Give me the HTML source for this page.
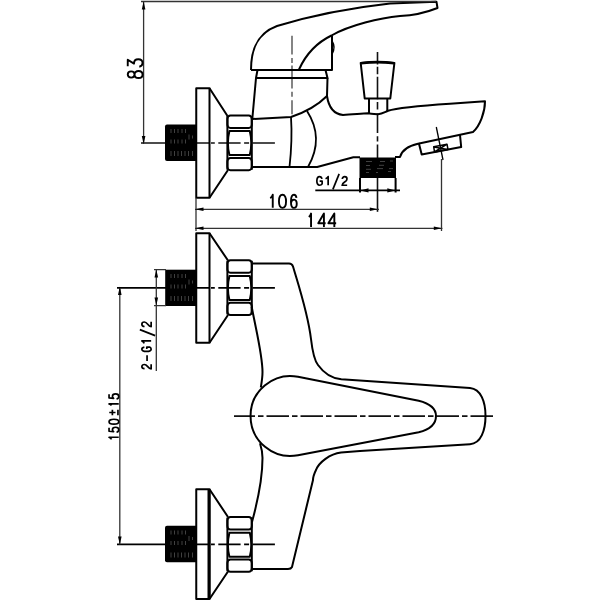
<!DOCTYPE html>
<html><head><meta charset="utf-8">
<style>
html,body{margin:0;padding:0;background:#fff;width:600px;height:600px;overflow:hidden}
svg{display:block}
</style></head><body>
<svg width="600" height="600" viewBox="0 0 600 600">
<defs>
<g id="nut" fill="none" stroke="#000" stroke-width="2">
<path d="M0,0.5 V54.3 M24.4,0.5 V54.3"/>
<rect x="0" y="0" width="24.4" height="12.5" rx="3" ry="3.5"/>
<path d="M2,15.7 H22.4 Q25.4,27.7 22.4,39.7 H2 Q-1,27.7 2,15.7 Z"/>
<rect x="0" y="42.6" width="24.4" height="12.2" rx="3" ry="3.5"/>
</g>
<g id="thr" fill="none" stroke="#505050" stroke-width="0.8">
<path d="M171,4.5 V8.5 M174.5,4.5 V8.5 M178,4.5 V8.5 M182,4.5 V8.5 M185.5,4.5 V8.5 M171,15 V19 M174.5,15 V19 M178,15 V19 M182,15 V19 M185.5,15 V19 M189,10 V15 M192.5,11 V14 M171,26.5 V31.5 M174.5,26.5 V31.5 M178,26.5 V31.5 M181.5,26.5 V31.5 M185,26.5 V31.5 M188.5,26.5 V31.5 M192.5,26.5 V31.5"/>
</g>
</defs>

<!-- ============ centerlines (under) ============ -->
<g fill="none" stroke="#111" stroke-width="1.7">
<path d="M141,143 H209.5"/>
<path d="M211,143 H276" stroke-dasharray="22.3 3.5 5 3.5" stroke-dashoffset="27"/>
<path d="M117,287.9 H209.5" stroke="#000" stroke-width="1.9"/>
<path d="M211,287.9 H276" stroke="#000" stroke-width="1.9" stroke-dasharray="22.3 3.5 5 3.5" stroke-dashoffset="27"/>
<path d="M117,544.4 H209.5" stroke="#000" stroke-width="1.9"/>
<path d="M211,544.4 H276" stroke="#000" stroke-width="1.9" stroke-dasharray="22.3 3.5 5 3.5" stroke-dashoffset="27"/>
<path d="M234,416.1 H493" stroke-width="1.9" stroke-dasharray="22.5 3 5.5 3" stroke-dashoffset="1.5"/>
<path d="M377.5,52 V64.6 M377.5,66.7 V74.2 M377.5,76.7 V99.2 M377.5,102 V109.4 M377.5,113.5 V133 M377.5,136.2 V141.4 M377.5,144.5 V158" stroke-width="1.6"/>
<path d="M292,35.8 V54.6 M292,57.9 V62.9 M292,65.4 V88.5 M292,91.8 V96.8 M292,100.2 V114.3" stroke="#707070" stroke-width="1.7"/>
<path d="M377.5,178 V211.8" stroke="#111" stroke-width="1.6"/>
</g>

<g fill="none" stroke="#000" stroke-width="2" stroke-linejoin="round" stroke-linecap="butt">

<!-- ============ SIDE VIEW ============ -->
<!-- handle -->
<path d="M251,70 C251,48 258,33 277,26 C300,19 340,9 390,3.5 L436.5,1.8 L437.5,8 C425,13 412,15.5 400,16 C380,18 350,25 331.5,35.5 C318,42 306,54 299,69.5"/>
<path d="M251,70 L332,70 L332,35.5"/>
<path d="M332,41 Q336,47.5 332,54" stroke-width="1.5"/>
<!-- collar -->
<path d="M257.5,70 L256,78 L327.5,78 L325.5,70"/>
<!-- body -->
<path d="M256,78 L252.3,119 L291,117 C303,113 318,105 327,96 L327.5,78"/>
<path d="M327,96 C328.5,106 333,114 343,115 C352,114.6 362,113.5 368,113.3 C372,113.8 376,114.3 378,114.2 C382,114 385,112 388,110.8 C396,108.3 425,105.5 450,103.8 L485,101.3 C485,112 480,126 473,132 L418,143.8 C408,146 402,150 400,157 L395,157"/>
<path d="M252.3,167 L317.2,167 L353.3,157.3 L360,157.3"/>
<path d="M291,117 Q292.5,140 289.5,167" stroke-width="1.8"/>
<path d="M307,111 Q324.5,138 308,167" stroke-width="1.8"/>
<!-- knob -->
<path d="M360.7,63 Q377.5,60.8 394.4,63 L390.3,98.5 L364.7,98.5 Z"/>
<path d="M361,63.2 Q377.5,61 394,63.2" stroke-width="2.6"/>
<path d="M369,98.5 L369,113.3 M387.3,98.5 L387.3,111.2"/>
<!-- aerator -->
<path d="M418.8,143 L421.7,154.6 L461.2,147 L460,135"/>
<path d="M433.7,146.7 L447,144.2 L448,149.5 L434.5,152 Z M434,147 L447.5,149.5 M434.5,152 L447,144.2" stroke-width="1.5"/>
<line x1="436.3" y1="127" x2="443" y2="160" stroke-width="1.3"/>

<!-- flange + nut side -->
<path d="M209.5,88.25 L196.25,88.25 L196.25,197.8 L209.5,197.8 Z"/>
<path d="M209.5,88.25 L227.5,116 M209.5,197.8 L228,170"/>
<use href="#nut" transform="translate(227.4,115.4)"/>

<!-- threads -->
<path d="M167,124.5 H196 V161 H167 Q165,161 165,159 V126.5 Q165,124.5 167,124.5 Z" fill="#000" stroke="none"/>
<use href="#thr" transform="translate(0,124.5)"/>
<rect x="359.5" y="157.5" width="36.5" height="20.5" fill="#000" stroke="none"/>
<path d="M366,161.5 H372 M380,161.5 H385 M390,161 H393 M366,165.5 H370 M379,165.3 H384 M366,169.3 H371 M377,168.6 H383 M389,168.6 H393 M366,172.5 H369 M376,172.5 H378 M388,171.5 H391" stroke="#505050" stroke-width="0.8"/>

<!-- ============ FRONT VIEW ============ -->
<!-- upper connection -->
<path d="M209.5,233.3 L196.25,233.3 L196.25,342.7 L209.5,342.7 Z"/>
<path d="M209.5,233.3 L228,260.5 M209.5,342.7 L228,315"/>
<use href="#nut" transform="translate(227.4,260.2)"/>
<!-- lower connection -->
<path d="M209.5,489.3 L196.25,489.3 L196.25,599 L209.5,599 Z"/>
<path d="M209,490 V599" stroke-width="3"/>
<path d="M209.5,489.3 L228,517 M209.5,599 L228,571.5"/>
<use href="#nut" transform="translate(227.4,517)"/>

<!-- body -->
<path d="M252.3,263.6 L289,263.6 Q292,263.6 293,266.5 C300,290 308,314 311,339 C312.5,352 314,360 318,365 C323,372 331,378.3 341.3,379.3 L470,388 C481,389 485.5,402 485.5,416 C485.5,430 481,443.5 470,444.2 L360,451 L341,452.5 C330,454 319,462 316,470 C314,474 313,478 313,480 L292,567 Q291,569 288,569 L252.3,569"/>
<path d="M251.7,306.7 C256,330 262.5,355 262.5,372 C262.5,378 261.5,383 260.8,387.5"/>
<path d="M260,443.3 C261.5,448 262.5,452 262.5,458 C262.5,475 258,500 252,522"/>
<!-- handle teardrop -->
<path d="M298,376.7 A40,40 0 1 0 298,455.3 L418.7,432.3 C432,429 436,422 436,416 C436,410 432,404 418.7,400.7 Z"/>

<!-- threads front -->
<rect x="165.2" y="269.7" width="30.8" height="36.3" fill="#000" stroke="none"/>
<use href="#thr" transform="translate(0,269.5)"/>
<path d="M167,525.8 H196 V562.3 H167 Q165,562.3 165,560.3 V527.8 Q165,525.8 167,525.8 Z" fill="#000" stroke="none"/>
<use href="#thr" transform="translate(0,526)"/>
</g>

<!-- ============ dimensions ============ -->
<g fill="none" stroke="#333" stroke-width="1.3">
<path d="M141,1.5 H436"/>
<path d="M143.6,1.5 V144"/>
<path d="M360,178 V192.6 M395.6,178 V192.6" stroke="#000" stroke-width="2"/>
<path d="M315.3,190.4 H400" stroke="#000" stroke-width="1.6"/>
<path d="M196,198 V231 M195,209.3 H379 M195,228.3 H442.5 M441.5,159 V231"/>
<path d="M154,269.6 H166 M154,305.6 H166 M156.3,269.6 V371"/>
<path d="M119.8,288 V544.4"/>
</g>
<g fill="#000" stroke="none">
<path d="M143.6,1.5 L145.40,9.50 L141.80,9.50 Z"/>
<path d="M143.6,144 L141.80,136.00 L145.40,136.00 Z"/>
<path d="M360.5,190.4 L368.5,188.3 L368.5,192.5 Z"/>
<path d="M395.3,190.4 L387.3,192.5 L387.3,188.3 Z"/>
<path d="M195,209.3 L203.50,207.50 L203.50,211.10 Z"/>
<path d="M377.8,209.3 L369.80,211.10 L369.80,207.50 Z"/>
<path d="M195,228.3 L203.50,226.50 L203.50,230.10 Z"/>
<path d="M441.8,228.3 L433.80,230.10 L433.80,226.50 Z"/>
<path d="M156.3,269.6 L158.10,277.60 L154.50,277.60 Z"/>
<path d="M156.3,305.6 L154.50,297.60 L158.10,297.60 Z"/>
<path d="M119.8,286.5 L121.60,295.00 L118.00,295.00 Z"/>
<path d="M119.8,544.5 L118.00,536.50 L121.60,536.50 Z"/>
</g>

<!-- texts -->
<g fill="none" stroke="#000" stroke-linecap="butt" stroke-linejoin="round">
<path d="M0,2.6 C1.3,2.1 2.6,1.2 3.2,0 L3.2,10" transform="matrix(0.7812,0,0,1.3100,270.250,194.750)" stroke-width="1.9" vector-effect="non-scaling-stroke"/>
<path d="M3,0 C1,0 0,2.2 0,5 C0,7.8 1,10 3,10 C5,10 6,7.8 6,5 C6,2.2 5,0 3,0 Z" transform="matrix(1.1833,0,0,1.3100,278.950,194.750)" stroke-width="1.9" vector-effect="non-scaling-stroke"/>
<path d="M5.7,2.4 C5.4,0.8 4.4,0 3.1,0 C1,0 0,2.1 0,5.3 C0,8.3 1.2,10 3.1,10 C4.9,10 6,8.7 6,6.8 C6,4.9 4.9,3.7 3.2,3.7 C1.6,3.7 0.3,4.8 0.1,6.3" transform="matrix(0.9667,0,0,1.3100,290.950,194.750)" stroke-width="1.9" vector-effect="non-scaling-stroke"/>
<path d="M0,2.6 C1.3,2.1 2.6,1.2 3.2,0 L3.2,10" transform="matrix(0.6875,0,0,1.3400,308.850,213.550)" stroke-width="1.9" vector-effect="non-scaling-stroke"/>
<path d="M4.6,10 L4.6,0 L0,7.2 L6,7.2" transform="matrix(1.2333,0,0,1.3400,318.250,213.550)" stroke-width="1.9" vector-effect="non-scaling-stroke"/>
<path d="M4.6,10 L4.6,0 L0,7.2 L6,7.2" transform="matrix(1.3000,0,0,1.3400,328.350,213.550)" stroke-width="1.9" vector-effect="non-scaling-stroke"/>
<path d="M6.2,2.7 C5.8,1 4.7,0 3.3,0 C1.2,0 0,2.1 0,5 C0,8 1.2,10 3.3,10 C4.6,10 5.8,9.4 6.4,8.4 L6.4,5.3 L3.4,5.3" transform="matrix(0.8281,0,0,0.8700,316.850,176.550)" stroke-width="1.7" vector-effect="non-scaling-stroke"/>
<path d="M0,2.6 C1.3,2.1 2.6,1.2 3.2,0 L3.2,10" transform="matrix(0.8125,0,0,0.8700,325.550,176.550)" stroke-width="1.7" vector-effect="non-scaling-stroke"/>
<path d="M0,10 L4,0" transform="matrix(1.5750,0,0,1.5500,332.850,173.850)" stroke-width="1.7" vector-effect="non-scaling-stroke"/>
<path d="M0.2,2.9 C0.2,1.1 1.4,0 3,0 C4.7,0 5.8,1.1 5.8,2.7 C5.8,4.4 4.5,5.3 3,6.3 C1.5,7.3 0.2,8.4 0,10 L6,10" transform="matrix(0.8333,0,0,0.8700,342.150,176.550)" stroke-width="1.7" vector-effect="non-scaling-stroke"/>
<path d="M3,4.6 C1.4,4.6 0.4,3.7 0.4,2.3 C0.4,0.9 1.5,0 3,0 C4.5,0 5.6,0.9 5.6,2.3 C5.6,3.7 4.6,4.6 3,4.6 C1.2,4.6 0,5.6 0,7.3 C0,8.9 1.3,10 3,10 C4.7,10 6,8.9 6,7.3 C6,5.6 4.8,4.6 3,4.6 Z" transform="matrix(0,-1.1833,1.4800,0,127.750,78.050)" stroke-width="1.9" vector-effect="non-scaling-stroke"/>
<path d="M0.4,0 L5.6,0 L2.5,4.2 C4.8,4.2 6,5.5 6,7.1 C6,8.9 4.6,10 3,10 C1.4,10 0.3,9.1 0,7.8" transform="matrix(0,-1.2500,1.4800,0,127.750,66.750)" stroke-width="1.9" vector-effect="non-scaling-stroke"/>
<path d="M0,2.6 C1.3,2.1 2.6,1.2 3.2,0 L3.2,10" transform="matrix(0,-0.6875,0.9700,0,109.050,439.450)" stroke-width="1.7" vector-effect="non-scaling-stroke"/>
<path d="M5.5,0 L1.2,0 L0.6,4.7 C1.2,4 2.1,3.5 3.1,3.5 C4.9,3.5 6,4.9 6,6.75 C6,8.7 4.7,10 3,10 C1.4,10 0.3,9.1 0,7.7" transform="matrix(0,-0.8333,0.9700,0,109.050,432.250)" stroke-width="1.7" vector-effect="non-scaling-stroke"/>
<path d="M3,0 C1,0 0,2.2 0,5 C0,7.8 1,10 3,10 C5,10 6,7.8 6,5 C6,2.2 5,0 3,0 Z" transform="matrix(0,-0.8167,0.9700,0,109.050,424.150)" stroke-width="1.7" vector-effect="non-scaling-stroke"/>
<path d="M2.5,0 L2.5,7.2 M0,3.6 L5,3.6 M0,10 L5,10" transform="matrix(0,-1.0600,0.8700,0,109.250,415.150)" stroke-width="1.7" vector-effect="non-scaling-stroke"/>
<path d="M0,2.6 C1.3,2.1 2.6,1.2 3.2,0 L3.2,10" transform="matrix(0,-0.4687,0.9700,0,109.050,405.350)" stroke-width="1.7" vector-effect="non-scaling-stroke"/>
<path d="M5.5,0 L1.2,0 L0.6,4.7 C1.2,4 2.1,3.5 3.1,3.5 C4.9,3.5 6,4.9 6,6.75 C6,8.7 4.7,10 3,10 C1.4,10 0.3,9.1 0,7.7" transform="matrix(0,-0.8500,0.9700,0,109.050,398.950)" stroke-width="1.7" vector-effect="non-scaling-stroke"/>
<path d="M0.2,2.9 C0.2,1.1 1.4,0 3,0 C4.7,0 5.8,1.1 5.8,2.7 C5.8,4.4 4.5,5.3 3,6.3 C1.5,7.3 0.2,8.4 0,10 L6,10" transform="matrix(0,-0.7500,0.9300,0,141.850,368.850)" stroke-width="1.7" vector-effect="non-scaling-stroke"/>
<path d="M0,5.6 L4,5.6" transform="matrix(0,-1.4250,0.9300,0,141.850,360.950)" stroke-width="1.7" vector-effect="non-scaling-stroke"/>
<path d="M6.2,2.7 C5.8,1 4.7,0 3.3,0 C1.2,0 0,2.1 0,5 C0,8 1.2,10 3.3,10 C4.6,10 5.8,9.4 6.4,8.4 L6.4,5.3 L3.4,5.3" transform="matrix(0,-0.6719,0.9300,0,141.850,351.350)" stroke-width="1.7" vector-effect="non-scaling-stroke"/>
<path d="M0,2.6 C1.3,2.1 2.6,1.2 3.2,0 L3.2,10" transform="matrix(0,-0.8125,0.9300,0,141.850,343.450)" stroke-width="1.7" vector-effect="non-scaling-stroke"/>
<path d="M0,10 L4,0" transform="matrix(0,-1.5125,1.5300,0,139.850,335.650)" stroke-width="1.7" vector-effect="non-scaling-stroke"/>
<path d="M0.2,2.9 C0.2,1.1 1.4,0 3,0 C4.7,0 5.8,1.1 5.8,2.7 C5.8,4.4 4.5,5.3 3,6.3 C1.5,7.3 0.2,8.4 0,10 L6,10" transform="matrix(0,-0.8000,0.9300,0,141.850,326.650)" stroke-width="1.7" vector-effect="non-scaling-stroke"/>
</g>
</svg>
</body></html>
